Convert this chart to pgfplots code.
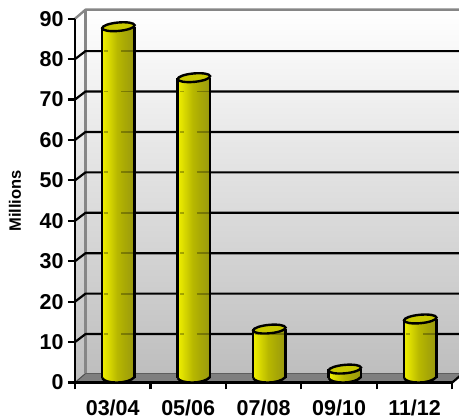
\documentclass[border=0pt]{standalone}
\usepackage{pgfplots}
\usepackage{pgfplotstable}
\usepackage{fontspec}
\setmainfont{Liberation Sans}
\pgfplotsset{compat=1.18}

\definecolor{wallline}{HTML}{868686}
\definecolor{floorgray}{HTML}{7F7F7F}
\definecolor{walllow}{HTML}{BEBEBE}
\definecolor{captop}{HTML}{C8C800}

% Stepped horizontal shading for the cylinder body
\pgfdeclarehorizontalshading{cyl}{100bp}{
  rgb(0bp)=(0.93,0.93,0);
  rgb(6bp)=(1,1,0);
  rgb(18bp)=(1,1,0);
  rgb(34bp)=(0.86,0.86,0);
  rgb(48bp)=(0.72,0.72,0);
  rgb(60bp)=(0.66,0.66,0.02);
  rgb(70bp)=(0.62,0.62,0.05);
  rgb(85bp)=(0.52,0.52,0);
  rgb(100bp)=(0.42,0.42,0)}

% Cap, foot and see-through grid marks of a cylinder
\pgfdeclareplotmark{cyltop}{%
  \pgfpathellipse{\pgfpointorigin}{\pgfqpoint{16.2pt}{1.5pt}}{\pgfqpoint{-0.4pt}{4.2pt}}%
  \pgfusepathqfillstroke}
\pgfdeclareplotmark{cylfoot}{%
  \pgfpathmoveto{\pgfqpoint{-16.2pt}{0pt}}%
  \pgfpathcurveto{\pgfqpoint{-14pt}{-6pt}}{\pgfqpoint{10pt}{-6.5pt}}{\pgfqpoint{16.2pt}{1pt}}%
  \pgfpathclose
  \pgfshadepath{cyl}{0}%
  \pgfusepath{discard}%
  \pgfpathmoveto{\pgfqpoint{-16.2pt}{0pt}}%
  \pgfpathcurveto{\pgfqpoint{-14pt}{-6pt}}{\pgfqpoint{10pt}{-6.5pt}}{\pgfqpoint{16.2pt}{1pt}}%
  \pgfusepathqstroke}
\pgfdeclareplotmark{cylgrid}{%
  \pgfpathmoveto{\pgfqpoint{-14pt}{0pt}}\pgfpathlineto{\pgfqpoint{-10pt}{0pt}}%
  \pgfpathmoveto{\pgfqpoint{3pt}{0pt}}\pgfpathlineto{\pgfqpoint{15pt}{0pt}}%
  \pgfusepathqstroke}

\pgfplotstableread{
x    value
0.5  86.9
1.5  74.3
2.5  12.1
3.5  2.2
4.5  14.6
}\seasons

\pgfplotstableread{
x    level
0.5  10
0.5  20
0.5  30
0.5  40
0.5  50
0.5  60
0.5  70
0.5  80
1.5  10
1.5  20
1.5  30
1.5  40
1.5  50
1.5  60
1.5  70
2.5  10
4.5  10
}\hidden

\begin{document}
\begin{tikzpicture}[x=1pt,y=1pt]
\path[use as bounding box,clip] (0,0) rectangle (459,419);
\begin{axis}[
  at={(75pt,36.5pt)}, anchor=south west,
  scale only axis, width=377.3pt, height=363.8pt,
  xmin=0, xmax=5, ymin=0, ymax=90,
  clip=false,
  axis on top,
  axis x line*=bottom, axis y line*=left,
  axis line style={line width=2.4pt,black,-},
  xtick={0,1,2,3,4,5},
  xticklabels={03/04,05/06,07/08,09/10,11/12},
  x tick label as interval,
  ytick={0,10,...,90},
  tick align=outside,
  major tick length=7pt,
  tick style={line width=2.2pt,black},
  /pgf/number format/assume math mode=true,
  tick label style={font=\fontsize{21.5}{24}\selectfont\bfseries},
  xticklabel style={yshift=-7pt},
  yticklabel style={xshift=-1pt},
  cylbody/.style={ybar, bar shift=0pt, bar width=32.4pt, draw=none, shade, shading=cyl,
    xshift=5.7pt, yshift=4.5pt},
]
% back wall, side wall and floor
\path[top color=white,bottom color=walllow]
  ([shift={(10.5pt,9pt)}]axis cs:0,90) -- ([shift={(10.5pt,9pt)}]axis cs:5,90)
  -- ([shift={(10.5pt,9pt)}]axis cs:5,0) -- ([shift={(10.5pt,9pt)}]axis cs:0,0) -- cycle;
\path[top color=white,bottom color=walllow]
  (axis cs:0,90) -- ([shift={(10.5pt,9pt)}]axis cs:0,90)
  -- ([shift={(10.5pt,9pt)}]axis cs:0,0) -- (axis cs:0,0) -- cycle;
\fill[floorgray] (axis cs:0,0) -- ([shift={(10.5pt,9pt)}]axis cs:0,0)
  -- ([shift={(10.5pt,9pt)}]axis cs:5,0) -- (axis cs:5,0) -- cycle;
% wall edges
\draw[wallline,line width=2.4pt,line cap=round,line join=round]
  (axis cs:0,90) -- ([shift={(10.5pt,9pt)}]axis cs:0,90) -- ([shift={(10.5pt,9pt)}]axis cs:5,90);
\draw[wallline,line width=2.4pt]
  ([shift={(10.5pt,9pt)}]axis cs:0,90) -- ([shift={(10.5pt,9pt)}]axis cs:0,0);
\draw[black!70,line width=1pt] (axis cs:0,0) -- ([shift={(10.5pt,9pt)}]axis cs:0,0);
\draw[wallline!70!black,line width=1pt]
  ([shift={(10.5pt,9pt)}]axis cs:0,0) -- ([shift={(10.5pt,9pt)}]axis cs:5,0);
\draw[black,line width=2.2pt] (axis cs:5,0) -- ([shift={(10.5pt,9pt)}]axis cs:5,0);
% grid lines running round the walls
\pgfplotsinvokeforeach{10,20,...,80}{
  \draw[black,line width=2.2pt,line join=round]
    (axis cs:0,#1) -- ([shift={(10.5pt,8pt)}]axis cs:0,#1)
    -- ([shift={(10.5pt,8pt)}]axis cs:5,#1);
}
% cylinder bodies, one plot each so that each carries the whole shading
\addplot[cylbody] coordinates {(0.5,86.9)};
\addplot[cylbody] coordinates {(1.5,74.3)};
\addplot[cylbody] coordinates {(2.5,12.1)};
\addplot[cylbody] coordinates {(3.5,2.2)};
\addplot[cylbody] coordinates {(4.5,14.6)};
% cylinder feet
\addplot[only marks, xshift=5.7pt, yshift=4.5pt, mark=cylfoot,
  mark options={draw=black,line width=2.4pt}]
  table[x=x, y expr=0] {\seasons};
% grid lines faintly visible through the bodies
\addplot[only marks, xshift=5.7pt, yshift=8pt, mark=cylgrid,
  mark options={draw=black,line width=1.8pt,opacity=0.28}]
  table[x=x, y=level] {\hidden};
% cylinder sides
\addplot[ycomb, no marks, black, line width=2.4pt, xshift=-10.5pt, yshift=4.5pt]
  table[x=x, y=value] {\seasons};
\addplot[ycomb, no marks, black, line width=2.4pt, xshift=21.9pt, yshift=4.5pt]
  table[x=x, y=value] {\seasons};
% cylinder caps
\addplot[only marks, xshift=5.7pt, yshift=4.5pt, mark=cyltop,
  mark options={draw=black,fill=captop,line width=2.4pt}]
  table[x=x, y=value] {\seasons};
\end{axis}
\node[rotate=90,font=\fontsize{16.5}{18}\selectfont\bfseries] at (15,218) {Millions};
\end{tikzpicture}
\end{document}
